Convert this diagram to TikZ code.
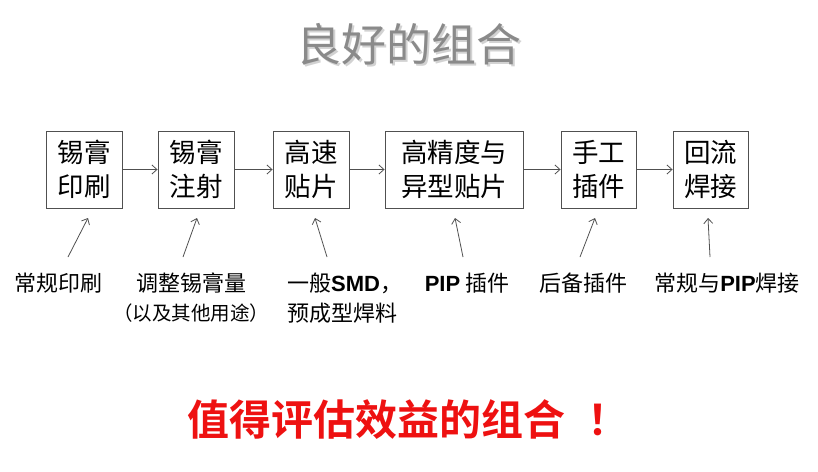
\documentclass[tikz,border=0pt]{standalone}
\usepackage{fontspec}
\setmainfont{Liberation Sans}
\newfontfamily\cjk{Noto Sans CJK SC}
\newfontfamily\cjkb{Noto Sans CJK SC Bold}
\newfontfamily\latb{Liberation Sans}
\usetikzlibrary{arrows.meta}
\definecolor{titlegray}{HTML}{8A8A8A}
\definecolor{shadowgray}{HTML}{D2D2D2}
\definecolor{linegray}{HTML}{505050}
\definecolor{alertred}{HTML}{EE1111}
\newcommand{\lat}[1]{{\latb\bfseries #1}}
\newcommand{\shadowed}[1]{\makebox[0pt][l]{\hspace{2pt}\raisebox{-2pt}{\color{shadowgray}#1}}#1}
\begin{document}
\begin{tikzpicture}[x=1pt,y=-1pt,
  stepbox/.style={draw=linegray,line width=0.9pt,inner sep=0pt,align=center,
    minimum height=77pt,font=\cjk\fontsize{26.5}{34}\selectfont},
  flow/.style={draw=linegray,line width=0.8pt,-{Straight Barb[length=5pt,width=9pt]}},
  note/.style={inner sep=0pt,align=center,font=\cjk\fontsize{22}{30}\selectfont},
  feed/.style={draw=linegray,line width=0.8pt,-{Straight Barb[length=5pt,width=9pt]}}]
\useasboundingbox (0,0) rectangle (818,471);

% title with soft drop shadow
\node[text=titlegray,font=\cjk\fontsize{45}{45}\selectfont] (title) at (409,45) {\shadowed{良好的组合}};

% process steps
\node[stepbox,minimum width=76pt] (b1) at (84,169.5) {锡膏\\印刷};
\node[stepbox,minimum width=76pt] (b2) at (196,169.5) {锡膏\\注射};
\node[stepbox,minimum width=76pt] (b3) at (311,169.5) {高速\\贴片};
\node[stepbox,minimum width=138pt] (b4) at (454,169.5) {高精度与\\异型贴片};
\node[stepbox,minimum width=75pt] (b5) at (598.5,169.5) {手工\\插件};
\node[stepbox,minimum width=75pt] (b6) at (710.5,169.5) {回流\\焊接};

\foreach \a/\b in {b1/b2,b2/b3,b3/b4,b4/b5,b5/b6}
  \draw[flow] (\a.east) -- (\b.west);

% notes under the steps
\node[note] (n1) at (58,283) {常规印刷};
\node[note] (n2) at (191,298) {调整锡膏量\\[-1pt]{\fontsize{19.5}{19.5}\selectfont （以及其他用途）}};
\node[note,align=left,anchor=west] (n3) at (287,298) {一般\lat{SMD}，\\预成型焊料};
\node[note] (n4) at (467,283) {\lat{PIP} 插件};
\node[note] (n5) at (583,283) {后备插件};
\node[note] (n6) at (727,283) {常规与\lat{PIP}焊接};

% feed arrows from notes to steps
\coordinate (t1) at (68,257);  \coordinate (h1) at (88,218);
\coordinate (t2) at (183,257); \coordinate (h2) at (197,218);
\coordinate (t3) at (327,257); \coordinate (h3) at (315,218);
\coordinate (t4) at (463,257); \coordinate (h4) at (455,218);
\coordinate (t5) at (580,257); \coordinate (h5) at (595,218);
\coordinate (t6) at (710,257); \coordinate (h6) at (708,218);
\foreach \i in {1,...,6}
  \draw[feed] (t\i) -- (h\i);

% conclusion
\node[text=alertred,font=\cjkb\fontsize{42}{42}\selectfont,anchor=west] (concl) at (184,420) {值得评估效益的组合\hspace{22pt}！};
\end{tikzpicture}
\end{document}
